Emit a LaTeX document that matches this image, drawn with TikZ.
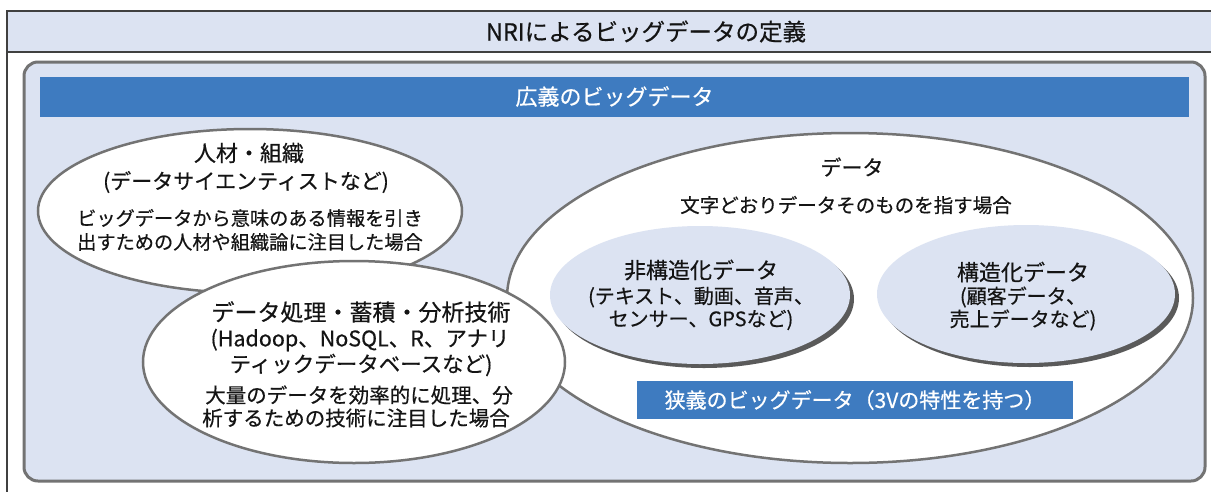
\documentclass[tikz,border=0pt]{standalone}
\usepackage{fontspec}
\setmainfont{Noto Sans CJK JP}[FakeBold=0.5]
\usetikzlibrary{shapes.geometric}
\definecolor{bgblue}{RGB}{220,227,242}
\definecolor{bannerblue}{RGB}{62,123,192}
\definecolor{framegray}{RGB}{64,64,64}
\definecolor{linegray}{RGB}{115,115,115}
\definecolor{shadowgray}{RGB}{90,90,90}
\definecolor{txt}{RGB}{20,20,20}
\newcommand\myfs[1]{\fontsize{#1}{#1}\selectfont}
\begin{document}
\begin{tikzpicture}[x=1pt,y=-1pt,
  bigell/.style={ellipse, inner sep=0pt, draw=linegray, line width=2.5pt, fill=white},
  subell/.style={ellipse, inner sep=0pt, fill=bgblue},
  subshadow/.style={ellipse, inner sep=0pt, fill=shadowgray},
  bannerbox/.style={rectangle, inner sep=0pt, fill=bannerblue, text=white},
  lbl/.style={inner sep=0pt, text=txt}
]
\useasboundingbox (0,0) rectangle (1211,491);
\clip (0,0) rectangle (1211,491);
\fill[white] (0,0) rectangle (1211,491);
% outer frame
\draw[framegray, line width=2pt] (7,11) -- (7,520) -- (1290,520);
\node[rectangle, draw=framegray, line width=2pt, fill=bgblue, minimum width=1278pt, minimum height=41pt, inner sep=0pt, font=\myfs{23.5}, text=txt] (title) at (646,31.5) {NRIによるビッグデータの定義};
% inner panel
\node[rectangle, rounded corners=14pt, draw=linegray, line width=3pt, fill=bgblue, minimum width=1181pt, minimum height=419pt, inner sep=0pt] (panel) at (614.5,271.5) {};
\node[bannerbox, minimum width=1149pt, minimum height=40pt, font=\myfs{22}] (wide) at (614.5,96.5) {広義のビッグデータ};
% data ellipse
\node[bigell, minimum width=686pt, minimum height=330pt] (data) at (850,298) {};
% people ellipse
\node[bigell, minimum width=424pt, minimum height=164pt] (people) at (250,211) {};
% tech ellipse
\node[bigell, minimum width=422pt, minimum height=202pt] (tech) at (354,362) {};
% sub ellipses
\node[subshadow, minimum width=300pt, minimum height=138pt] (unstrS) at (704,299) {};
\node[subell, minimum width=300pt, minimum height=138pt] (unstr) at (700,295) {};
\node[subshadow, minimum width=298pt, minimum height=138pt] (strS) at (1030,298) {};
\node[subell, minimum width=298pt, minimum height=138pt] (str) at (1026,294) {};
% narrow banner
\node[bannerbox, minimum width=436pt, minimum height=38pt, font=\myfs{21}] (narrow) at (855,400) {狭義のビッグデータ（3Vの特性を持つ）};
% texts people
\node[lbl, font=\myfs{22}] (p1) at (249,153) {人材・組織};
\node[lbl, font=\myfs{21}] (p2) at (246,182) {(データサイエンティストなど)};
\node[lbl, font=\myfs{19.2}] (p3) at (250,218) {ビッグデータから意味のある情報を引き};
\node[lbl, font=\myfs{19.2}] (p4) at (250,242) {出すための人材や組織論に注目した場合};
% texts tech
\node[lbl, font=\myfs{23}] (t1) at (361,312) {データ処理・蓄積・分析技術};
\node[lbl, font=\myfs{21.5}] (t2) at (360,340) {(Hadoop、NoSQL、R、アナリ};
\node[lbl, font=\myfs{21.5}] (t3) at (361,365) {ティックデータベースなど)};
\node[lbl, font=\myfs{20.5}] (t4) at (359,395) {大量のデータを効率的に処理、分};
\node[lbl, font=\myfs{20.5}] (t5) at (356,418) {析するための技術に注目した場合};
% texts data
\node[lbl, font=\myfs{21}] (d1) at (852,167) {データ};
\node[lbl, font=\myfs{19.5}] (d2) at (846,205) {文字どおりデータそのものを指す場合};
\node[lbl, font=\myfs{22}] (u1) at (701,270) {非構造化データ};
\node[lbl, font=\myfs{20}] (u2) at (701,297) {(テキスト、動画、音声、};
\node[lbl, font=\myfs{20}] (u3) at (701,320) {センサー、GPSなど)};
\node[lbl, font=\myfs{22}] (s1) at (1023,272) {構造化データ};
\node[lbl, font=\myfs{20}] (s2) at (1023,297) {(顧客データ、};
\node[lbl, font=\myfs{20}] (s3) at (1023,320) {売上データなど)};
\end{tikzpicture}
\end{document}
